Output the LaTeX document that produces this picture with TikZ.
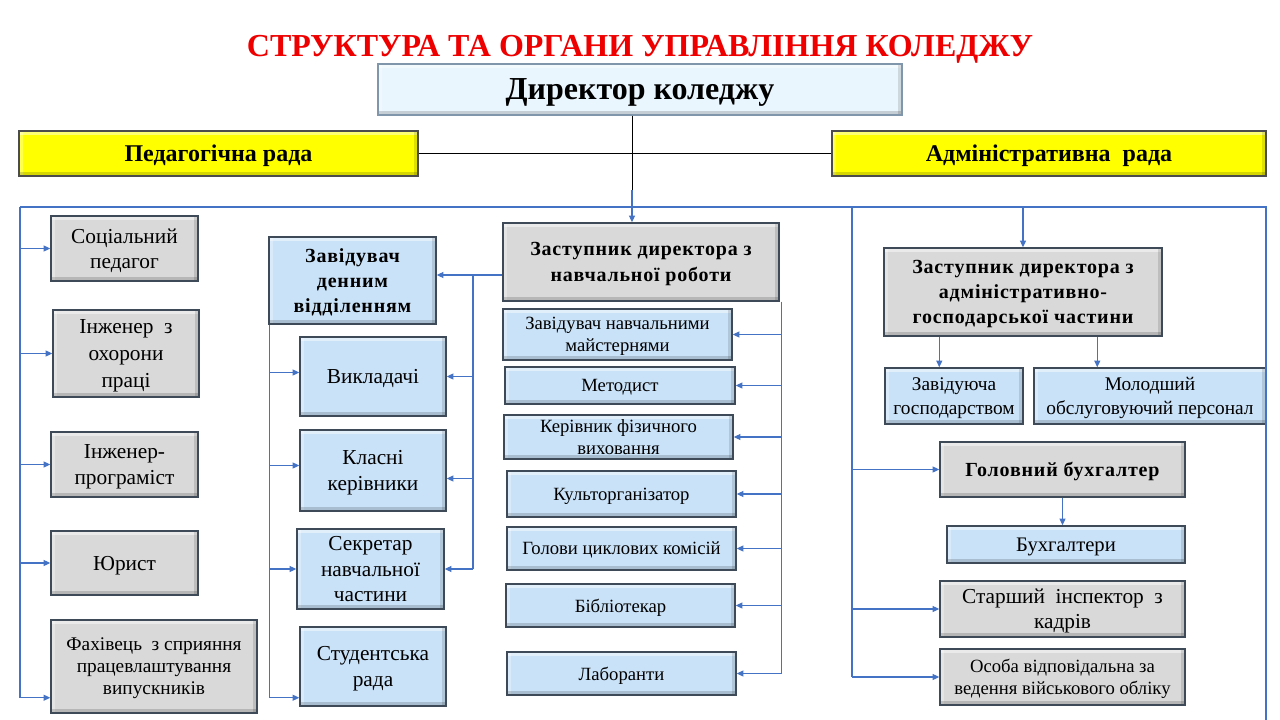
\documentclass[tikz,border=0pt]{standalone}
\usepackage{fontspec}
\setmainfont{Liberation Serif}
\newfontfamily\spbold[LetterSpace=4]{Liberation Serif}
\usetikzlibrary{arrows.meta,calc}

\definecolor{boxgray}{HTML}{D9D9D9}
\definecolor{boxblue}{HTML}{C9E2F8}
\definecolor{dirblue}{HTML}{EAF6FD}
\definecolor{boxyellow}{HTML}{FFFF00}
\definecolor{edge}{HTML}{3E4A57}
\definecolor{diredge}{HTML}{8096AA}
\definecolor{conn}{HTML}{4472C4}
\definecolor{titlered}{HTML}{EE0000}

\tikzset{
  base/.style={draw=edge, line width=1.1pt, inner sep=1pt, align=center, text=black, text depth=0pt,
    path picture={
      \fill[white,opacity=0.45] (path picture bounding box.north west) rectangle ([yshift=-3pt]path picture bounding box.north east);
      \fill[white,opacity=0.3] (path picture bounding box.north west) rectangle ([xshift=3pt]path picture bounding box.south west);
      \fill[black,opacity=0.16] (path picture bounding box.south west) rectangle ([yshift=3pt]path picture bounding box.south east);
      \fill[black,opacity=0.12] (path picture bounding box.north east) rectangle ([xshift=-3pt]path picture bounding box.south east);
    }},
  graybox/.style={base, fill=boxgray},
  bluebox/.style={base, fill=boxblue},
  yellowbox/.style={base, fill=boxyellow, draw=black!70},
  dirbox/.style={base, fill=dirblue, draw=diredge},
  fr/.style={font=\fontsize{16}{19}\selectfont},
  fm/.style={font=\fontsize{14}{16.5}\selectfont},
  fs/.style={font=\fontsize{14.5}{16.5}\selectfont},
  fb/.style={font=\spbold\bfseries\fontsize{15}{19}\selectfont},
  bus/.style={draw=conn, line width=0.8pt},
  arr/.style={draw=conn, line width=0.8pt, -{Triangle[length=5pt,width=4.5pt]}},
  blackline/.style={draw=black, line width=0.75pt},
}

\newcommand\bx[7]{\node[#2, minimum width={(#5-#3)*0.75pt}, minimum height={(#6-#4)*0.75pt}] (#1) at ({(#3+#5)/2},{(#4+#6)/2}) {#7};}

\begin{document}
\begin{tikzpicture}[x=0.75pt, y=-0.75pt]
\fill[white] (0,0) rectangle (1280,720);
\useasboundingbox (0,0) rectangle (1280,720);

% title
\node[font=\bfseries\fontsize{24}{28}\selectfont, text=titlered, anchor=base, inner sep=0pt] (title) at (640,57) {СТРУКТУРА ТА ОРГАНИ УПРАВЛІННЯ КОЛЕДЖУ};

% top level
\bx{dir}{dirbox, font=\bfseries\fontsize{24}{28}\selectfont}{378}{64}{902}{115}{Директор коледжу}
\bx{ped}{yellowbox, font=\bfseries\fontsize{18}{21}\selectfont}{19}{131}{418}{176}{Педагогічна рада}
\bx{adm}{yellowbox, font=\bfseries\fontsize{18}{21}\selectfont}{832}{131}{1266}{176}{Адміністративна~ рада}

% left column
\bx{soc}{graybox, fr}{51}{216}{198}{281}{Соціальний\\педагог}
\bx{inz}{graybox, font=\fontsize{16}{20}\selectfont}{53}{310}{199}{397}{Інженер~ з\\охорони\\праці}
\bx{prog}{graybox, fr}{51}{432}{198}{497}{Інженер-\\програміст}
\bx{jur}{graybox, fr}{51}{531}{198}{595}{Юрист}
\bx{fah}{graybox, fs}{51}{620}{257}{713}{Фахівець~ з сприяння\\працевлаштування\\випускників}

% second column
\bx{zdv}{bluebox, fb}{269}{237}{436}{324}{Завідувач\\денним\\відділенням}
\bx{vykl}{bluebox, fr}{300}{337}{446}{416}{Викладачі}
\bx{klas}{bluebox, fr}{300}{430}{446}{511}{Класні\\керівники}
\bx{sekr}{bluebox, fr}{297}{529}{444}{609}{Секретар\\навчальної\\частини}
\bx{stud}{bluebox, fr}{300}{627}{446}{706}{Студентська\\рада}

% middle column
\bx{zn}{graybox, fb}{503}{223}{779}{301}{Заступник директора з\\навчальної роботи}
\bx{znm}{bluebox, fm}{503}{309}{732}{360}{Завідувач навчальними\\майстернями}
\bx{met}{bluebox, fm}{505}{367}{735}{404}{Методист}
\bx{kfv}{bluebox, fm}{504}{415}{733}{459}{Керівник фізичного\\виховання}
\bx{kult}{bluebox, fm}{507}{471}{736}{517}{Культорганізатор}
\bx{gol}{bluebox, fm}{507}{527}{736}{570}{Голови циклових комісій}
\bx{bibl}{bluebox, fm}{506}{584}{735}{627}{Бібліотекар}
\bx{lab}{bluebox, fm}{507}{652}{736}{695}{Лаборанти}

% right column
\bx{zad}{graybox, fb}{884}{248}{1162}{336}{Заступник директора з\\адміністративно-\\господарської частини}
\bx{zg}{bluebox, font=\fontsize{14.5}{18}\selectfont}{885}{368}{1023}{424}{Завідуюча\\господарством}
\bx{mop}{bluebox, font=\fontsize{14.5}{18}\selectfont}{1034}{368}{1266}{424}{Молодший\\обслуговуючий персонал}
\bx{gb}{graybox, fb}{940}{442}{1185}{497}{Головний бухгалтер}
\bx{buh}{bluebox, font=\fontsize{15.5}{18}\selectfont}{947}{526}{1185}{563}{Бухгалтери}
\bx{sik}{graybox, fr}{940}{581}{1185}{637}{Старший~ інспектор~ з\\кадрів}
\bx{osoba}{graybox, fm}{940}{649}{1185}{705}{Особа відповідальна за\\ведення військового обліку}

% ---- connectors ----
\coordinate (tl) at (20,207);
\coordinate (tr) at (1266,207);
\coordinate (brc) at (1266,720);
\coordinate (dj) at (632,207);
\coordinate (djb) at (632,190);

\draw[blackline] (ped.east) -- (adm.west);
\draw[blackline] (dir.south -| dj) -- (djb);
\draw[arr] (djb) -- (zn.north -| dj);

\draw[bus] (tl) -- (tr) -- (brc);

% left bus
\coordinate (fa) at ($(fah.south west)+(0,-16)$);
\draw[bus] (tl) -- (tl |- fa);
\foreach \n in {soc,inz,prog,jur} \draw[arr] (tl |- \n.west) -- (\n.west);
\draw[arr] (tl |- fa) -- (fa);

% zn -> second column
\coordinate (mb) at (473,275);
\draw[arr] (zn.west |- mb) -- (zdv.east |- mb);
\coordinate (ka) at ($(klas.east)+(0,8)$);
\draw[bus] (mb) -- (mb |- sekr.east);
\draw[arr] (mb |- vykl.east) -- (vykl.east);
\draw[arr] (mb |- ka) -- (ka);
\draw[arr] (mb |- sekr.east) -- (sekr.east);

% zdv -> subordinate boxes
\coordinate (lb) at ($(zdv.south west)+(1,0)$);
\coordinate (va) at ($(vykl.west)+(0,-4)$);
\coordinate (kla) at ($(klas.west)+(0,-5)$);
\coordinate (sa) at ($(stud.south west)+(0,-9)$);
\draw[bus] (lb) -- (lb |- sa);
\draw[arr] (lb |- va) -- (va);
\draw[arr] (lb |- kla) -- (kla);
\draw[arr] (lb |- sekr.west) -- (sekr.west);
\draw[arr] (lb |- sa) -- (sa);

% zn -> middle column
\coordinate (rb) at ($(zn.south east)+(2,0)$);
\draw[bus] (rb) -- (rb |- lab.east);
\foreach \n in {znm,met,kfv,kult,gol,bibl,lab} \draw[arr] (rb |- \n.east) -- (\n.east);

% right column
\coordinate (ra) at (852,207);
\draw[bus] (ra) -- (ra |- osoba.west);
\foreach \n in {gb,sik,osoba} \draw[arr] (ra |- \n.west) -- (\n.west);
\draw[arr] (zad.north |- tl) -- (zad.north);
\coordinate (a1) at ($(zad.south west)+(56,0)$);
\coordinate (a2) at ($(zad.south west)+(214,0)$);
\draw[arr] (a1) -- (a1 |- zg.north);
\draw[arr] (a2) -- (a2 |- mop.north);
\draw[arr] (gb.south) -- (gb.south |- buh.north);
\end{tikzpicture}
\end{document}
